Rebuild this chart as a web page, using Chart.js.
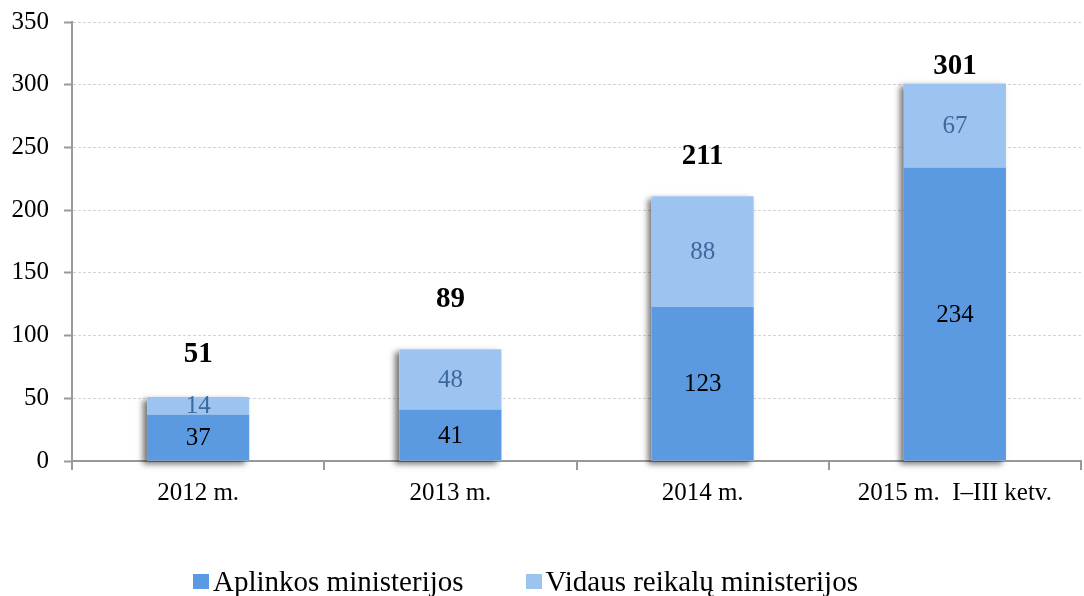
<!DOCTYPE html>
<html>
<head>
<meta charset="utf-8">
<script src="https://cdn.jsdelivr.net/npm/chart.js@4/dist/chart.umd.min.js"></script>
<style>
	html, body { margin: 0; padding: 0; background: #fff; }
	#wrap { position: relative; width: 1084px; height: 596px; }
	#ministry_legend {
		position: absolute; left: 193px; top: 566px; height: 30px;
		font-family: "Liberation Serif", "Times New Roman", serif; font-size: 29px; color: #000;
	}
	.chart-labels-list { list-style: none; margin: 0; padding: 0; display: flex; }
	.chart-labels-list li { display: flex; align-items: center; height: 30px; margin-right: 62px; white-space: nowrap; }
	.chart-label-icon { display: inline-block; width: 16px; height: 15px; margin-right: 4px; }
</style>
</head>
<body>
<div id="wrap">
	<canvas id="ministry_chart"></canvas>
	<div id="ministry_legend"></div>
</div>
<script>
var categories = ['2012 m.', '2013 m.', '2014 m.', '2015 m.  I\u2013III ketv.'],
	seriesNames = ['Aplinkos ministerijos', 'Vidaus reikalų ministerijos'],
	aplinkos = [37, 41, 123, 234],
	vidaus = [14, 48, 88, 67],
	totals = [51, 89, 211, 301],
	yTicks = [0, 50, 100, 150, 200, 250, 300, 350];

var colors = ['#5b9ae0', '#9dc3f1'],
	fontFamily = '"Liberation Serif", "Times New Roman", serif',
	// how far above each stack its total sits (px), as in the original
	totalOffsets = [43, 50, 40, 17];

// soft shadow behind every stack, drawn before the bars
var stackShadow = {
	id: 'stackShadow',
	beforeDatasetsDraw: function(chart) {
		const ctx = chart.ctx;
		const bottom = chart.getDatasetMeta(0);
		const top = chart.getDatasetMeta(1);
		ctx.save();
		ctx.shadowColor = 'rgba(0,0,0,0.55)';
		ctx.shadowBlur = 6;
		ctx.shadowOffsetX = -4;
		ctx.shadowOffsetY = 3;
		ctx.fillStyle = '#fff';
		for (let i = 0; i < bottom.data.length; ++i) {
			const b = bottom.data[i], t = top.data[i];
			ctx.fillRect(b.x - b.width / 2, t.y, b.width, b.base - t.y);
		}
		ctx.restore();
	}
};

// values inside the segments and the totals over the stacks
var barLabels = {
	id: 'barLabels',
	afterDatasetsDraw: function(chart) {
		const ctx = chart.ctx;
		const textColors = ['#000', '#3d6a9e'];
		ctx.save();
		ctx.textAlign = 'center';
		ctx.textBaseline = 'middle';
		chart.data.datasets.forEach(function(ds, d) {
			const meta = chart.getDatasetMeta(d);
			ctx.font = '25px ' + fontFamily;
			ctx.fillStyle = textColors[d];
			meta.data.forEach(function(bar, i) {
				ctx.fillText(ds.data[i], bar.x, (bar.y + bar.base) / 2 + 1);
			});
		});
		const top = chart.getDatasetMeta(1);
		ctx.font = 'bold 29px ' + fontFamily;
		ctx.fillStyle = '#000';
		top.data.forEach(function(bar, i) {
			ctx.fillText(totals[i], bar.x, bar.y - totalOffsets[i]);
		});
		ctx.restore();
	}
};

var config = {
	type: 'bar',
	data: {
		labels: categories,
		datasets: [{
			label: seriesNames[0],
			data: aplinkos,
			backgroundColor: colors[0]
		}, {
			label: seriesNames[1],
			data: vidaus,
			backgroundColor: colors[1]
		}]
	},
	options: {
		responsive: true,
		maintainAspectRatio: false,
		animation: false,
		datasets: {
			bar: { categoryPercentage: 1, barPercentage: 0.405 }
		},
		layout: { padding: { top: 22, right: 3, left: 0, bottom: 0 } },
		scales: {
			x: {
				stacked: true,
				grid: {
					offset: true,
					drawOnChartArea: false,
					color: '#999',
					tickLength: 9,
					lineWidth: 2
				},
				border: { color: '#999', width: 2 },
				ticks: {
					color: '#000',
					padding: 8,
					font: { family: fontFamily, size: 25 }
				},
				afterFit: function(scale) { scale.height = 125; }
			},
			y: {
				stacked: true,
				min: 0,
				max: 350,
				afterBuildTicks: function(scale) {
					scale.ticks = yTicks.map(function(v) { return { value: v }; });
				},
				grid: {
					color: '#d4d4d4',
					tickColor: '#999',
					tickBorderDash: [],
					tickLength: 8,
					tickWidth: 2
				},
				border: { color: '#999', width: 2, dash: [3, 2] },
				ticks: {
					color: '#000',
					padding: 15,
					font: { family: fontFamily, size: 25 }
				},
				afterFit: function(scale) {
					scale.width = 72;
					// the top label may stick out above the plot, like in the original
					scale.paddingTop = 0;
					scale.paddingBottom = 0;
				}
			}
		},
		plugins: {
			legend: {
				display: true,
				position: 'bottom',
				labels: {
					generateLabels: function(chart) {
						const datasets = chart.data.datasets;
						let text = [];
						text.push('<ul class="chart-labels-list">');
						for (let i = 0; i < datasets.length; ++i) {
							text.push(`<li><span class="chart-label-icon" style="background-color:${datasets[i].backgroundColor}"></span><span class="chart-label">${datasets[i].label}</span></li>`);
						}
						text.push('</ul>');
						document.getElementById('ministry_legend').innerHTML = text.join('');
						// the legend lives in the HTML above, not on the canvas
						return [];
					}
				}
			},
			tooltip: { enabled: false }
		}
	},
	plugins: [stackShadow, barLabels]
};

new Chart(document.getElementById('ministry_chart').getContext('2d'), config);
</script>
</body>
</html>
